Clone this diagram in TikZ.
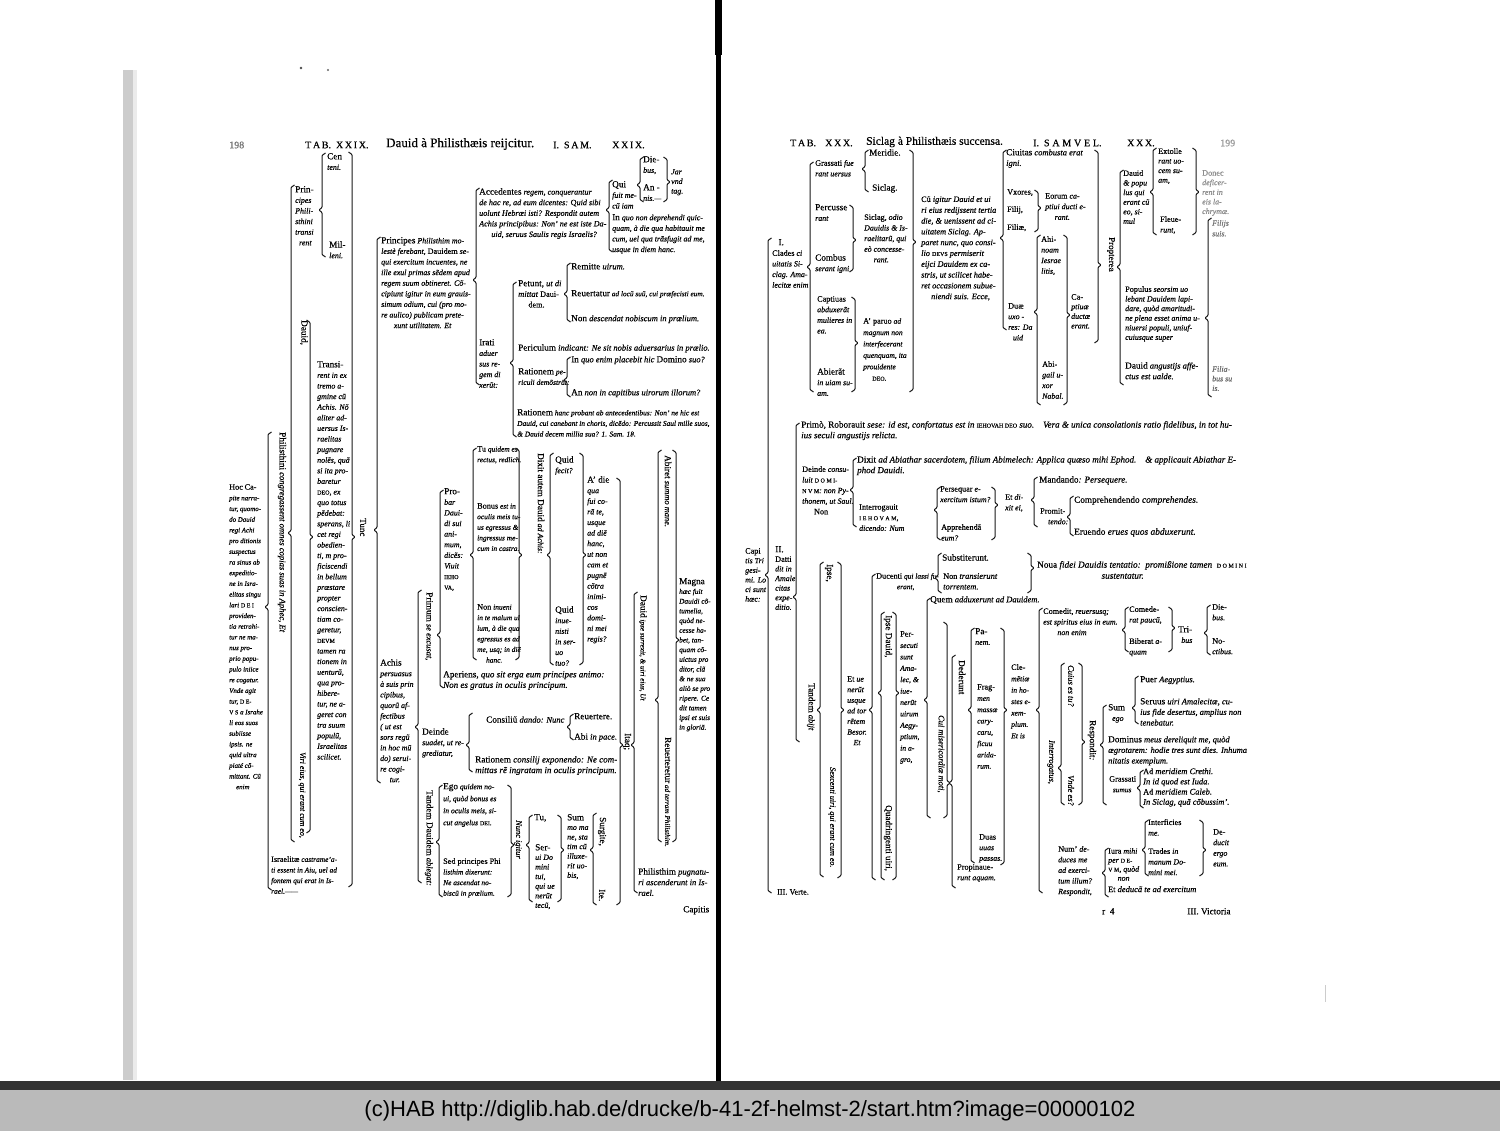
\documentclass[tikz,border=0pt]{standalone}
\usepackage{fontspec}
\setmainfont{Liberation Serif}[FakeBold=0.4]
\setsansfont{Liberation Sans}

\newcommand{\ro}[1]{{\upshape\fontsize{9.2}{10}\selectfont #1}}
\newcommand{\rs}[1]{{\upshape\fontsize{8.2}{10}\selectfont #1}}
\newcommand{\cps}[1]{{\upshape\fontsize{6}{6}\selectfont #1}}
%% bracket opening to the right: x, top, bottom, tip
\newcommand{\bkl}[4]{\draw[brk] (#1+3.5,#2) -- (#1,#2+2.5) -- (#1,#4-2.5) -- (#1-3,#4) -- (#1,#4+2.5) -- (#1,#3-2.5) -- (#1+3.5,#3);}
%% bracket opening to the left: x, top, bottom, tip
\newcommand{\bkr}[4]{\draw[brk] (#1-3.5,#2) -- (#1,#2+2.5) -- (#1,#4-2.5) -- (#1+3,#4) -- (#1,#4+2.5) -- (#1,#3-2.5) -- (#1-3.5,#3);}

\tikzset{
  txt/.style={anchor=north west, inner sep=0pt, align=left, text=black, font=\fontsize{8.5}{10.6}\selectfont\itshape},
  wide/.style={txt, font=\fontsize{9}{10.6}\selectfont\itshape},
  sm/.style={txt, font=\fontsize{7.3}{10.6}\selectfont\itshape},
  nar/.style={txt, font=\fontsize{7.9}{10.6}\selectfont\itshape},
  nars/.style={txt, font=\fontsize{7.4}{10.6}\selectfont\itshape},
  nart/.style={txt, font=\fontsize{7.9}{9.6}\selectfont\itshape},
  vrt/.style={anchor=west, inner sep=0pt, rotate=-90, text=black, font=\fontsize{8.4}{9}\selectfont\itshape},
  hdr/.style={anchor=west, inner sep=0pt, text=black, font=\fontsize{10}{10}\selectfont},
  brk/.style={line width=1pt, draw=black!90, rounded corners=0.8pt},
}

\begin{document}
\begin{tikzpicture}[x=1pt,y=-1pt]
\useasboundingbox (0,0) rectangle (1500,1131);
\fill[white] (0,0) rectangle (1500,1131);

%% scan edges, spine and the archive strip
\fill[black!20] (123,70) rectangle (133,1080);
\fill[black!8] (133,70) rectangle (137,1080);
\fill[black] (716,0) rectangle (720.5,1082);
\fill[black] (714.5,0) rectangle (721.5,55);
\draw[black!20, line width=0.8pt] (1325,985) -- (1325,1002);
\fill[black!80] (0,1081) rectangle (1500,1090);
\fill[black!27] (0,1090) rectangle (1500,1131);
\node[font=\sffamily\fontsize{22}{22}\selectfont, text=black] (hab) at (750,1111)
  {(c)HAB http://diglib.hab.de/drucke/b-41-2f-helmst-2/start.htm?image=00000102};
\fill[black!70] (301,68) circle (1.3);
\fill[black!60] (328,70) circle (1.1);

%% ---------------- left page: Tab. XXIX ----------------
\node[hdr, text=black!55] (p198) at (229,145) {198};
\node[hdr] (tab29) at (305,145) {T\,A\,B.\enspace X\,X\,I\,X.};
\node[hdr, font=\fontsize{13}{12}\selectfont] (tit29) at (386,144) {Dauid à Philisthæis reijcitur.};
\node[hdr] (sam29) at (553,145) {I.\enspace S\,A\,M.};
\node[hdr] (xxix) at (612,145) {X\,X\,I\,X.};

\node[nar, font=\fontsize{6.9}{10.7}\selectfont\itshape] (hoc) at (229,484)
  {\rs{Hoc} \rs{Ca-}\\pite narra-\\tur, quomo-\\do Dauid\\regi Achi\\pro ditionis\\suspectus\\ra sinus ab\\expeditio-\\ne in Isra-\\elitas singu\\lari \cps{D E I}\\providen-\\tia retrahi-\\tur ne ma-\\nus pro-\\prio popu-\\pulo iniice\\re cogatur.\\Vnde agit\\tur, \cps{D E-}\\\cps{V S} a Israhe\\li eos suos\\subiisse\\ipsis. ne\\quid ultra\\piaté cõ-\\mittant. Cũ\\\hspace*{1em}enim};
\node[vrt, font=\fontsize{8.6}{9}\selectfont\itshape] (phil) at (282,432) {\ro{Philisthini} congregassent omnes copias suas in Aphec, Et};
\node[nar] (princ) at (295,186) {\ro{Prin-}\\cipes\\Phili-\\sthini\\transi\\\hspace*{0.5em}rent};
\node[nar] (cent) at (327,153) {\ro{Cen}\\teni.};
\node[nar] (mill) at (329,241) {\ro{Mil-}\\leni.};
\node[vrt] (dauv) at (304,320) {\ro{Dauid,}};
\node[vrt, font=\fontsize{7.9}{9}\selectfont\itshape] (viri) at (302,752) {Viri eius, qui erant cum eo,};
\node[nar] (trans) at (317,361)
  {\ro{Transi-}\\rent in ex\\tremo a-\\gmine cũ\\Achis. Nõ\\aliter ad-\\uersus Is-\\raelitas\\pugnare\\nolẽs, quã\\si ita pro-\\baretur\\\cps{DEO}, ex\\quo totus\\pẽdebat:\\sperans, li\\cet regi\\obedien-\\ti, m pro-\\ficiscendi\\in bellum\\præstare\\propter\\conscien-\\tiam co-\\geretur,\\\cps{DEVM}\\tamen ra\\tionem in\\uenturũ,\\qua pro-\\hibere-\\tur, ne a-\\geret con\\tra suum\\populũ,\\Israelitas\\scilicet.};
\node[nars] (isra) at (271,856) {\rs{Israelitæ} castrame'a-\\ti essent in Aiu, uel ad\\fontem qui erat in Is-\\rael.——};
\node[vrt, font=\fontsize{9}{9}\selectfont] (tunc) at (363,518) {Tunc};

\node[nar] (pmol) at (381,237)
  {\ro{Principes} Philisthim mo-\\lestè ferebant, \rs{Dauidem} se-\\qui exercitum incuentes, ne\\ille exul primas sẽdem apud\\regem suum obtineret. Cõ-\\cipiunt igitur in eum grauis-\\simum odium, cui (pro mo-\\re aulico) publicam prete-\\\hspace*{1.6em}xunt utilitatem. Et};
\node[txt, font=\fontsize{8.1}{10.6}\selectfont\itshape] (acc) at (479,188)
  {\ro{Accedentes} regem, conquerantur\\de hac re, ad eum dicentes: \rs{Q}uid sibi\\uolunt Hebræi isti? Respondit autem\\Achis principibus: Non' ne est iste Da-\\\hspace*{1.5em}uid, seruus Saulis regis Israelis?};
\node[nar] (qui) at (612,181) {\ro{Qui}\\fuit me-\\cũ iam};
\node[nar] (dieb) at (643,156) {\ro{Die-}\\bus,};
\node[nar] (annis) at (643,184) {\ro{An -}\\nis.—};
\node[nart] (jar) at (671,169) {Jar\\vnd\\tag.};
\node[nar] (inquo) at (612,214) {\ro{In} quo non deprehendi quic-\\quam, à die qua habitauit me\\cum, uel qua trãsfugit ad me,\\usque in diem hanc.};
\node[nar] (irati) at (479,339) {\ro{Irati}\\aduer\\sus re-\\gem di\\xerũt:};
\node[txt] (petunt) at (518,280) {\ro{Petunt,} ut di\\mittat \rs{Daui-}\\\hspace*{1.2em}\rs{dem.}};
\node[txt] (remit) at (571,263) {\ro{Remitte} uirum.};
\node[sm] (reuert) at (571,290) {\ro{Reuertatur} ad locũ suũ, cui præfecisti eum.};
\node[txt] (nondesc) at (571,315) {\ro{Non} descendat nobiscum in prælium.};
\node[txt] (peric) at (518,344) {\ro{Periculum} indicant: Ne sit nobis aduersarius in prælio.};
\node[nar, font=\fontsize{7.6}{10.6}\selectfont\itshape] (ratpe) at (518,368) {\ro{Rationem} pe-\\riculi demõstrãt:};
\node[txt] (inquoe) at (571,356) {\ro{In} quo enim placebit hic \ro{Domino} suo?};
\node[txt] (annon) at (571,389) {\ro{An} non in capitibus uirorum illorum?};
\node[txt, font=\fontsize{7.4}{10.6}\selectfont\itshape] (rathanc) at (517,409) {\ro{Rationem} hanc probant ab antecedentibus: Non' ne hic est\\Dauid, cui canebant in choris, dicẽdo: Percussit Saul mille suos,\\\& Dauid decem millia sua? 1. Sam. 18.};

\node[nar] (probat) at (444,488) {\ro{Pro-}\\bar\\Daui-\\di sui\\ani-\\mum,\\dicẽs:\\Viuit\\\cps{IEHO}\\\cps{VA},};
\node[vrt] (primum) at (429,592) {\ro{Primum} se excusat,};
\node[nars] (tuq) at (477,446) {\rs{Tu} quidem es\\rectus, redlich.};
\node[nars] (bonus) at (477,503) {\rs{Bonus} est in\\oculis meis tu-\\us egressus \&\\ingressus me-\\cum in castra.};
\node[nars] (noninu) at (477,604) {\rs{Non} inueni\\in te malum ul\\lum, à die qua\\egressus es ad\\me, usq; in diẽ\\\hspace*{1.2em}hanc.};
\node[vrt, font=\fontsize{7.9}{9}\selectfont\itshape] (dixit) at (541,453) {\ro{Dixit autem Dauid} ad Achis:};
\node[nar] (quidf) at (555,456) {\ro{Quid}\\fecit?};
\node[nar] (quidi) at (555,606) {\ro{Quid}\\inue-\\nisti\\in ser-\\uo\\tuo?};
\node[nar] (adie) at (587,476) {\ro{A' die}\\qua\\fui co-\\rã te,\\usque\\ad diẽ\\hanc,\\ut non\\cam et\\pugnẽ\\cõtra\\inimi-\\cos\\domi-\\ni mei\\regis?};
\node[wide] (aper) at (443,671) {\ro{Aperiens}, quo sit erga eum principes animo:\\Non es gratus in oculis principum.};
\node[nar] (achis) at (380,659) {\ro{Achis}\\persuasus\\à suis prin\\cipibus,\\quorũ af-\\fectibus\\( ut est\\sors regũ\\in hoc mũ\\do) serui-\\re cogi-\\\hspace*{1.2em}tur.};
\node[nar] (deinde) at (422,728) {\ro{Deinde}\\suadet, ut re-\\grediatur,};
\node[txt] (consil) at (486,716) {\ro{Consiliũ} dando: Nunc};
\node[txt] (reuer2) at (574,713) {\ro{Reuertere.}};
\node[txt] (abi) at (574,733) {\ro{Abi} in pace.};
\node[wide] (ratcons) at (475,756) {\ro{Rationem} consilij exponendo: Ne com-\\mittas rẽ ingratam in oculis principum.};
\node[vrt] (tandem) at (429,790) {\ro{Tandem Dauidem} ablegat:};
\node[nar, font=\fontsize{7.6}{12}\selectfont\itshape] (ego) at (443,783) {\ro{Ego} quidem no-\\ui, quòd bonus es\\in oculis meis, si-\\cut angelus \cps{DEI}.};
\node[nars] (sed) at (443,858) {\rs{Sed principes Phi}\\listhim dixerunt:\\Ne ascendat no-\\biscũ in prælium.};
\node[vrt] (nunc) at (518,820) {Nunc igitur};
\node[nar] (tu) at (534,814) {\ro{Tu,}};
\node[nart] (serui) at (535,844) {\ro{Ser-}\\ui Do\\mini\\tui,\\qui ue\\nerũt\\tecũ,};
\node[nart] (sum) at (567,814) {\ro{Sum}\\mo ma\\ne, sta\\tim cũ\\illuxe-\\rit uo-\\bis,};
\node[vrt] (surg) at (602,817) {\ro{Surgite,}};
\node[vrt] (ite) at (602,889) {\ro{Ite.}};
\node[vrt] (itaq) at (627,733) {\ro{Itaq;}};
\node[vrt, font=\fontsize{7.2}{9}\selectfont\itshape] (dipse) at (643,595) {\ro{Dauid} ipse surrexit, \& uiri eius, Ut};
\node[vrt] (abiret) at (668,455) {\ro{Abiret} summo mane.};
\node[vrt, font=\fontsize{7.2}{9}\selectfont\itshape] (reuerv) at (668,737) {\ro{Reuerteretur} ad terram Philisthim.};
\node[nar, font=\fontsize{7.3}{9.7}\selectfont\itshape] (magna) at (679,578) {\ro{Magna}\\hæc fuit\\Dauidi cõ-\\tumelia,\\quòd ne-\\cesse ha-\\bet, tan-\\quam cõ-\\uictus pro\\ditor, clã\\\& ne sua\\aliò se pro\\ripere. Ce\\dit tamen\\ipsi et suis\\in gloriã.};
\node[txt] (philp) at (638,868) {\ro{Philisthim} pugnatu-\\ri ascenderunt in Is-\\rael.};
\node[txt] (capitis) at (683,906) {\ro{Capitis}};

%% brackets, left page
\bkl{268}{432}{890}{607}
\bkl{291}{185}{842}{533}
\bkr{310}{320}{833}{537}
\bkl{322}{153}{257}{210}
\bkr{352}{152}{887}{537}
\bkl{377}{237}{783}{530}
\bkl{476}{188}{385}{280}
\bkl{609}{180}{252}{210}
\bkl{640}{157}{202}{185}
\bkr{667}{157}{202}{182}
\bkl{513}{282}{437}{363}
\bkl{567}{263}{322}{294}
\bkl{567}{357}{397}{380}
\bkl{418}{590}{883}{727}
\bkl{440}{490}{688}{635}
\bkl{473}{448}{660}{555}
\bkr{519}{448}{660}{555}
\bkl{550}{453}{665}{555}
\bkr{583}{453}{665}{555}
\bkr{620}{478}{905}{745}
\bkl{634}{592}{893}{745}
\bkl{658}{450}{842}{700}
\bkr{676}{450}{842}{640}
\bkl{469}{713}{772}{745}
\bkl{570}{714}{740}{727}
\bkl{439}{785}{897}{842}
\bkr{511}{785}{897}{845}
\bkl{529}{815}{902}{845}
\bkr{561}{815}{902}{850}
\bkl{593}{813}{905}{850}

%% ---------------- right page: Tab. XXX ----------------
\node[hdr] (tab30) at (790,143) {T\,A\,B.};
\node[hdr] (xxx) at (825,143) {X\,X\,X.};
\node[hdr, font=\fontsize{11.5}{11}\selectfont] (tit30) at (866,142) {Siclag à Philisthæis succensa.};
\node[hdr] (samv) at (1033,143) {I.\enspace S\;A\;M\;V\;E\;L.};
\node[hdr] (xxx2) at (1127,143) {X\,X\,X.};
\node[hdr, text=black!40] (p199) at (1220,143) {199};

\node[nart] (capi) at (745,548) {\rs{Capi}\\tis Tri\\gesi-\\mi. Lo\\ci sunt\\hæc:};
\node[nar] (cladI) at (772,239) {\hspace*{0.8em}\ro{I.}\\\rs{Clades} ci\\uitatis Si-\\clag. Ama-\\lecitæ enim};
\node[nar] (grass) at (815,160) {\rs{Grassati} fue\\rant uersus};
\node[txt] (merid) at (869,149) {\ro{Meridie.}};
\node[txt] (sicl) at (872,184) {\ro{Siclag.}};
\node[nar] (percus) at (815,204) {\ro{Percusse}\\rant};
\node[nar] (combus) at (815,254) {\ro{Combus}\\serant igni};
\node[nar] (siclod) at (864,214) {\rs{Siclag}, odio\\Dauidis \& Is-\\raelitarũ, qui\\eò concesse-\\\hspace*{1.2em}rant.};
\node[nar] (capt) at (817,296) {\rs{Captiuas}\\abduxerãt\\mulieres in\\ea.};
\node[nar] (abier) at (817,368) {\ro{Abierãt}\\in uiam su-\\am.};
\node[nar, font=\fontsize{7.6}{11.4}\selectfont\itshape] (aparuo) at (863,318) {\rs{A' paruo} ad\\magnum non\\interfecerant\\quenquam, ita\\prouidente\\\hspace*{1.2em}\cps{DEO}.};
\node[nar, font=\fontsize{8.3}{10.8}\selectfont\itshape] (cuig) at (921,196) {\rs{Cũ} igitur Dauid et ui\\ri eius redijssent tertia\\die, \& uenissent ad ci-\\uitatem Siclag. Ap-\\paret nunc, quo consi-\\lio \cps{DEVS} permiserit\\eijci Dauidem ex ca-\\stris, ut scilicet habe-\\ret occasionem subue-\\\hspace*{1.2em}niendi suis. Ecce,};
\node[txt] (ciuit) at (1006,149) {\ro{Ciuitas} combusta erat\\igni.};
\node[txt] (vxor) at (1007,189) {\rs{Vxores},};
\node[txt] (filij) at (1007,206) {\rs{Filij},};
\node[txt] (filiae) at (1007,224) {\rs{Filiæ},};
\node[nar] (eorum) at (1045,193) {\rs{Eorum} ca-\\ptiui ducti e-\\\hspace*{1.2em}rant.};
\node[nar] (duae) at (1008,303) {\rs{Duæ}\\uxo -\\res: Da\\\hspace*{0.6em}uid};
\node[nar] (ahi) at (1041,236) {\rs{Ahi-}\\noam\\Iesrae\\litis,};
\node[nar] (abig) at (1042,361) {\rs{Abi-}\\gail u-\\xor\\Nabal.};
\node[nart] (capt2) at (1071,294) {\rs{Ca-}\\ptiuæ\\ductæ\\erant.};
\node[vrt, font=\fontsize{9}{9}\selectfont] (propt) at (1111,237) {Propterea};
\node[nart] (dauidp) at (1123,170) {\rs{Dauid}\\\& popu\\lus qui\\erant cũ\\eo, si-\\mul};
\node[nart] (extol) at (1158,148) {\rs{Extolle}\\rant uo-\\cem su-\\am,};
\node[nar] (fleue) at (1160,216) {\rs{Fleue-}\\runt,};
\node[nart, text=black!45] (donec) at (1202,170) {\rs{Donec}\\deficer-\\rent in\\eis la-\\chrymæ.};
\node[nart] (populus) at (1125,286) {\rs{Populus} seorsim uo\\lebant Dauidem lapi-\\dare, quòd amaritudi-\\ne plena esset anima u-\\niuersi populi, uniuf-\\cuiusque super};
\node[nar, text=black!55] (filijs) at (1212,220) {Filijs\\suis.};
\node[txt] (dauang) at (1125,362) {\ro{Dauid} angustijs affe-\\ctus est ualde.};
\node[nart, text=black!60] (filiab) at (1212,366) {Filia-\\bus su\\is.};

\node[wide] (primo) at (801,421) {\ro{Primò}, \ro{Roborauit} sese: id est, confortatus est in \cps{IEHOVAH DEO} suo.\quad Vera \& unica consolationis ratio fidelibus, in tot hu-\\ius seculi angustijs relicta.};
\node[nar] (deind) at (802,466) {\rs{Deinde} consu-\\luit \cps{D O M I-}\\\cps{N V M}: non Py-\\thonem, ut Saul.\\\hspace*{1.5em}\rs{Non}};
\node[wide] (dixab) at (857,456) {\ro{Dixit} ad Abiathar sacerdotem, filium Abimelech: Applica quæso mihi Ephod.\quad\& applicauit Abiathar E-\\phod Dauidi.};
\node[nar] (interr) at (859,504) {\rs{Interrogauit}\\\cps{I E H O V A M},\\dicendo: Num};
\node[nar] (persq) at (940,486) {\rs{Persequar} e-\\xercitum istum?};
\node[nar] (appr) at (941,524) {\rs{Apprehendã}\\eum?};
\node[nar] (etdix) at (1005,494) {\rs{Et} di-\\xit ei,};
\node[wide] (mand) at (1039,476) {\ro{Mandando}: Persequere.};
\node[nar] (promit) at (1040,508) {\rs{Promit-}\\\hspace*{1em}tendo:};
\node[wide, font=\fontsize{9.4}{10.6}\selectfont\itshape] (compr) at (1074,496) {\ro{Comprehendendo} comprehendes.};
\node[wide, font=\fontsize{9.4}{10.6}\selectfont\itshape] (eruen) at (1074,528) {\ro{Eruendo} erues quos abduxerunt.};
\node[nart] (II) at (775,546) {\ro{II.}\\\rs{Datti}\\dit in\\Amale\\citas\\expe-\\ditio.};
\node[vrt] (ipse) at (829,564) {\ro{Ipse,}};
\node[vrt] (tandab) at (811,683) {\ro{Tandem} abijt};
\node[vrt, font=\fontsize{8}{9}\selectfont\itshape] (sexc) at (832,767) {Sexcenti uiri, qui erant cum eo.};
\node[nar] (etuen) at (847,676) {\rs{Et} ue\\nerũt\\usque\\ad tor\\rẽtem\\Besor.\\\hspace*{0.8em}Et};
\node[nars] (ducen) at (876,573) {\rs{Ducenti} qui lassi fu-\\\hspace*{2.8em}erant,};
\node[txt] (subst) at (942,554) {\ro{Substiterunt}.};
\node[txt] (nontr) at (943,573) {\rs{Non} transierunt\\torrentem.};
\node[txt, font=\fontsize{9.2}{11}\selectfont\itshape] (noua) at (1037,561) {\ro{Noua} fidei Dauidis tentatio:\ \ promißione tamen\ \ \cps{D O M I N I}\\\hspace*{7em}sustentatur.};
\node[txt] (quem) at (930,596) {\ro{Quem} adduxerunt ad Dauidem.};
\node[vrt] (ipsed) at (888,615) {\ro{Ipse Dauid},};
\node[vrt] (quadr) at (888,805) {\ro{Quadringenti uiri},};
\node[nar, font=\fontsize{7.6}{11.4}\selectfont\itshape] (persec) at (900,631) {\rs{Per-}\\secuti\\sunt\\Ama-\\lec, \&\\iue-\\nerũt\\uirum\\Aegy-\\ptium,\\in a-\\gro,};
\node[vrt] (cuimis) at (941,715) {Cui misericordiæ moti,};
\node[vrt] (deder) at (962,660) {\ro{Dederunt}};
\node[nar] (panem) at (975,628) {\ro{Pa-}\\nem.};
\node[nar, font=\fontsize{7.6}{11.3}\selectfont\itshape] (frag) at (977,684) {\rs{Frag-}\\men\\massæ\\cary-\\caru,\\ficuu\\arida-\\rum.};
\node[nar] (duas) at (979,834) {\rs{Duas}\\uuas\\passas.};
\node[nar] (propin) at (957,864) {\rs{Propinaue-}\\runt aquam.};
\node[nar, font=\fontsize{7.6}{11.4}\selectfont\itshape] (clem) at (1011,664) {\rs{Cle-}\\mẽtiæ\\in ho-\\stes e-\\xem-\\plum.\\Et is};
\node[nar] (comed) at (1043,608) {\rs{Comedit}, reuersusq;\\est spiritus eius in eum.\\\hspace*{1.8em}non enim};
\node[nar] (comede) at (1129,606) {\rs{Comede-}\\rat paucũ,};
\node[nar] (biber) at (1129,638) {\rs{Biberat} a-\\quam};
\node[nar] (trib) at (1178,626) {\ro{Tri-}\\\hspace*{0.4em}bus};
\node[nar] (dieb2) at (1212,604) {\rs{Die-}\\bus.};
\node[nar] (noct) at (1212,638) {\rs{No-}\\ctibus.};
\node[vrt] (interg) at (1051,740) {Interrogatus,};
\node[vrt] (cuius) at (1071,665) {Cuius es tu?};
\node[vrt] (vnde) at (1071,775) {Vnde es?};
\node[vrt] (resp) at (1092,720) {\ro{Respondit}:};
\node[nar] (sumego) at (1108,704) {\ro{Sum}\\\hspace*{0.5em}ego};
\node[txt] (puer) at (1140,676) {\ro{Puer} Aegyptius.};
\node[txt] (seru) at (1140,698) {\ro{Seruus} uiri Amalecitæ, cu-\\ius fide desertus, amplius non\\tenebatur.};
\node[txt] (domin) at (1108,736) {\ro{Dominus} meus dereliquit me, quòd\\ægrotarem: hodie tres sunt dies. Inhuma\\nitatis exemplum.};
\node[nars] (grass2) at (1109,776) {\rs{Grassati}\\\hspace*{0.5em}sumus};
\node[txt, font=\fontsize{8.5}{10.2}\selectfont\itshape] (admer) at (1143,768) {\rs{Ad} meridiem Crethi.\\In id quod est Iuda.\\\rs{Ad} meridiem Caleb.\\In Siclag, quã cõbussim'.};
\node[nar] (numd) at (1058,846) {\rs{Num'} de-\\duces me\\ad exerci-\\tum illum?\\Respondit,};
\node[nar, font=\fontsize{7.9}{9}\selectfont\itshape] (iura) at (1108,848) {\rs{Iura} mihi\\per \cps{D E-}\\\cps{V M}, quòd\\\hspace*{1.2em}non};
\node[nar] (interf) at (1148,819) {\rs{Interficies}\\me.};
\node[nar] (trades) at (1148,848) {\rs{Trades} in\\manum Do-\\mini mei.};
\node[nar] (deduc) at (1213,829) {\rs{De-}\\ducit\\ergo\\eum.};
\node[txt] (etded) at (1108,886) {\rs{Et} deducã te ad exercitum};
\node[txt] (verte) at (777,889) {\rs{III. Verte.}};
\node[txt] (r4) at (1102,908) {\ro{r\enspace 4}};
\node[txt] (vict) at (1187,908) {\ro{III. Victoria}};

%% brackets, right page
\bkl{768}{238}{893}{575}
\bkl{810}{162}{392}{267}
\bkl{865}{150}{192}{169}
\bkr{853}{205}{272}{240}
\bkr{855}{297}{392}{343}
\bkr{913}{150}{392}{242}
\bkl{1003}{150}{330}{238}
\bkr{1038}{190}{232}{208}
\bkl{1037}{235}{405}{312}
\bkr{1067}{235}{405}{315}
\bkr{1098}{150}{343}{265}
\bkl{1120}{170}{385}{267}
\bkl{1153}{148}{235}{192}
\bkr{1196}{148}{235}{192}
\bkl{1208}{218}{397}{318}
\bkl{796}{423}{742}{597}
\bkl{853}{458}{527}{490}
\bkl{937}{487}{540}{510}
\bkr{995}{487}{540}{505}
\bkl{1034}{477}{527}{500}
\bkl{1070}{496}{536}{517}
\bkl{820}{562}{877}{710}
\bkr{841}{562}{878}{710}
\bkl{872}{574}{880}{710}
\bkl{938}{553}{593}{578}
\bkr{1031}{553}{593}{568}
\bkl{881}{612}{880}{693}
\bkr{896}{612}{880}{693}
\bkl{927}{598}{818}{700}
\bkr{947}{622}{818}{783}
\bkl{952}{655}{888}{783}
\bkl{971}{628}{863}{710}
\bkr{1004}{628}{865}{710}
\bkl{1039}{608}{893}{710}
\bkl{1125}{607}{652}{630}
\bkr{1172}{607}{652}{628}
\bkl{1207}{605}{655}{633}
\bkl{1061}{663}{805}{768}
\bkr{1082}{663}{805}{742}
\bkl{1103}{705}{805}{745}
\bkl{1135}{676}{724}{708}
\bkl{1140}{770}{808}{788}
\bkl{1105}{848}{897}{873}
\bkl{1145}{820}{876}{850}
\bkr{1203}{820}{876}{850}
\end{tikzpicture}
\end{document}
